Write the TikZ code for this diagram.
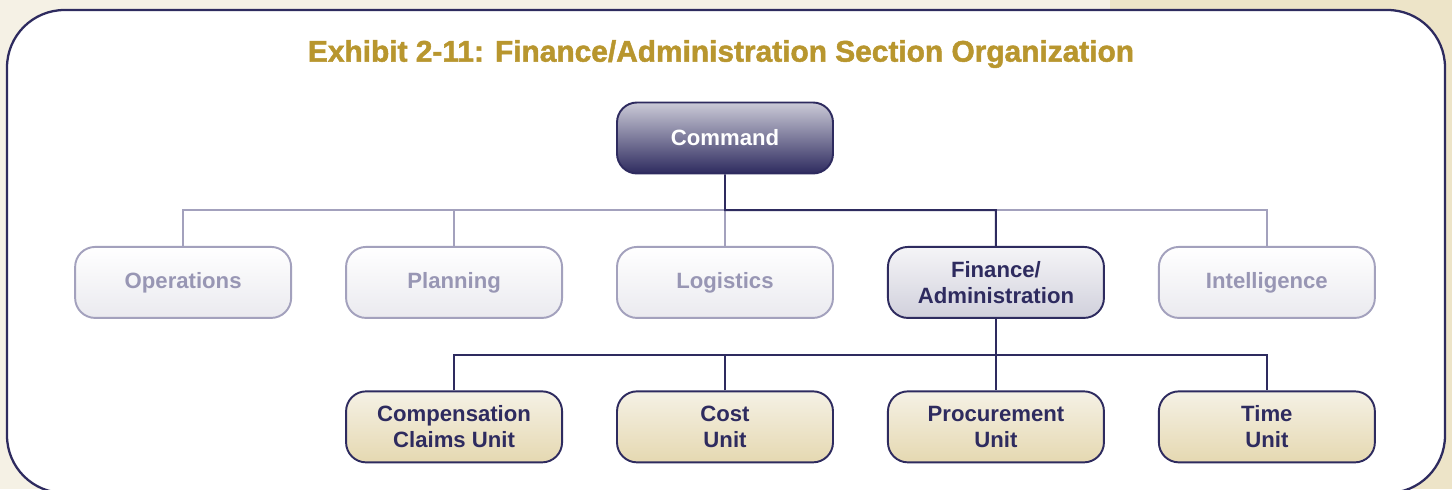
\documentclass[tikz,border=0pt]{standalone}
\usepackage{fontspec}
\setmainfont{Liberation Sans}
\newfontfamily\heavyfont{Liberation Sans}[BoldFeatures={FakeBold=1.6}]
\usetikzlibrary{positioning,calc}
\definecolor{navy}{HTML}{2E2B5F}
\definecolor{greyline}{HTML}{A3A1BD}
\definecolor{greytext}{HTML}{9896B4}
\definecolor{gold}{HTML}{B8962E}
\definecolor{creamL}{HTML}{F5F1E5}
\definecolor{creamR}{HTML}{EDE4C8}
\tikzset{
    %Define base style for boxes
    box/.style={
           rectangle,
           rounded corners=0.4cm,
           line width=1.1pt,
           minimum width=4.32cm,
           minimum height=1.42cm,
           align=center,
           font=\fontsize{12.6}{14.7}\selectfont\bfseries},
    % top box
    cmdbox/.style={
           box,
           draw=navy,
           top color=navy!25,
           bottom color=navy,
           text=white},
    % greyed sections
    secbox/.style={
           box,
           draw=greyline,
           top color=white,
           bottom color=navy!10,
           text=greytext},
    % highlighted section
    finbox/.style={
           box,
           draw=navy,
           top color=navy!5,
           bottom color=navy!22,
           text=navy},
    % unit boxes
    unitbox/.style={
           box,
           draw=navy,
           top color=creamL,
           bottom color=creamR!85!gold,
           text=navy},
    % Define link styles
    faint/.style={
           draw=greyline,
           line width=1.1pt},
    strong/.style={
           draw=navy,
           line width=1.1pt}
}
\begin{document}
\begin{tikzpicture}
  \useasboundingbox (0,0) rectangle (29.04,9.78);
 %background
  \fill[creamL] (0,0) rectangle (22.2,9.78);
  \fill[creamR] (22.2,0) rectangle (29.04,9.78);
  \begin{scope}
    \clip (0,0) rectangle (29.04,9.78);
    \draw[navy, line width=1.3pt, fill=white, rounded corners=1.15cm]
      (0.14,-0.08) rectangle (28.9,9.58);
  \end{scope}
  \node[text=gold, font=\heavyfont\fontsize{17}{19}\selectfont\bfseries] (title) at (14.42,8.7)
    {Exhibit 2-11: Finance/Administration Section Organization};
 %nodes
  \node[cmdbox] (cmd) at (14.5,7.02) {Command};
  \node[secbox, below=1.43cm of cmd] (log) {Logistics};
  \node[secbox, left=1.06cm of log] (plan) {Planning};
  \node[secbox, left=1.06cm of plan] (ops) {Operations};
  \node[finbox, right=1.06cm of log] (fin) {Finance/\\Administration};
  \node[secbox, right=1.06cm of fin] (intel) {Intelligence};
  \node[unitbox, below=1.43cm of fin] (proc) {Procurement\\Unit};
  \node[unitbox, left=1.06cm of proc] (cost) {Cost\\Unit};
  \node[unitbox, left=1.06cm of cost] (comp) {Compensation\\Claims Unit};
  \node[unitbox, right=1.06cm of proc] (time) {Time\\Unit};
  \coordinate (bus) at ($(cmd.south)!0.5!(log.north)$);
  \coordinate (subbus) at ($(fin.south)!0.5!(proc.north)$);
 %edges
  \draw[faint] (ops.north) |- (bus) -| (intel.north);
  \draw[faint] (plan.north) |- (bus);
  \draw[faint] (log.north) -- (bus);
  \draw[strong] (cmd.south) -- (bus) -| (fin.north);
  \draw[strong] (comp.north) |- (subbus) -| (time.north);
  \draw[strong] (cost.north) |- (subbus);
  \draw[strong] (fin.south) -- (proc.north);
\end{tikzpicture}
\end{document}
